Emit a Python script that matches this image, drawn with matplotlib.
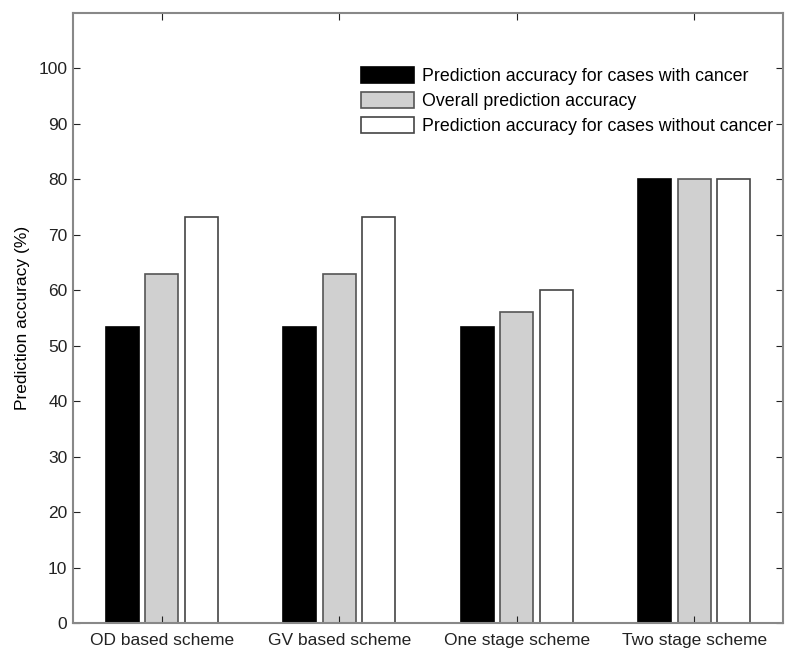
import matplotlib
matplotlib.use("Agg")
import matplotlib.pyplot as plt
import numpy as np

plt.rcParams['font.family'] = ['Liberation Sans', 'DejaVu Sans']

categories = ["OD based scheme", "GV based scheme", "One stage scheme", "Two stage scheme"]
series_names = ["Prediction accuracy for cases with cancer",
                "Overall prediction accuracy",
                "Prediction accuracy for cases without cancer"]
with_cancer = [53.3, 53.3, 53.3, 80.0]
overall = [63.0, 63.0, 56.0, 80.0]
without_cancer = [73.3, 73.3, 60.0, 80.0]
y_ticks = [0, 10, 20, 30, 40, 50, 60, 70, 80, 90, 100]

fig = plt.figure(figsize=(7.96, 6.59), dpi=100)
ax = fig.add_axes([73/796, 1-623/659, 710/796, 610/659])

x = np.arange(1, len(categories) + 1)
width = 0.185
step = 0.222
styles = [("black", "black"), ("#d0d0d0", "#555555"), ("white", "#444444")]
for i, (vals, name) in enumerate(zip([with_cancer, overall, without_cancer], series_names)):
    fc, ec = styles[i]
    ax.bar(x + (i - 1) * step, vals, width, color=fc, edgecolor=ec, linewidth=1.2, label=name)

ax.set_xlim(0.5, 4.5)
ax.set_ylim(0, 110)
ax.set_yticks(y_ticks)
ax.set_xticks(x)
ax.set_xticklabels(categories)
ax.tick_params(direction='in', top=True, right=True, labelsize=12.5, colors='#222222',
               length=5, width=0.8)
ax.tick_params(axis='x', pad=7)
ax.tick_params(axis='y', pad=4)
for s in ax.spines.values():
    s.set_color('#888888')
    s.set_linewidth(1.5)
ax.set_ylabel("Prediction accuracy (%)", fontsize=12.5, labelpad=6)

leg = ax.legend(loc='upper right', bbox_to_anchor=(0.996, 0.923), frameon=False,
                fontsize=12.8, handlelength=3.0, handleheight=1.0, labelspacing=0.4,
                handletextpad=0.45, borderaxespad=0)

fig.savefig("out.png", dpi=100)
